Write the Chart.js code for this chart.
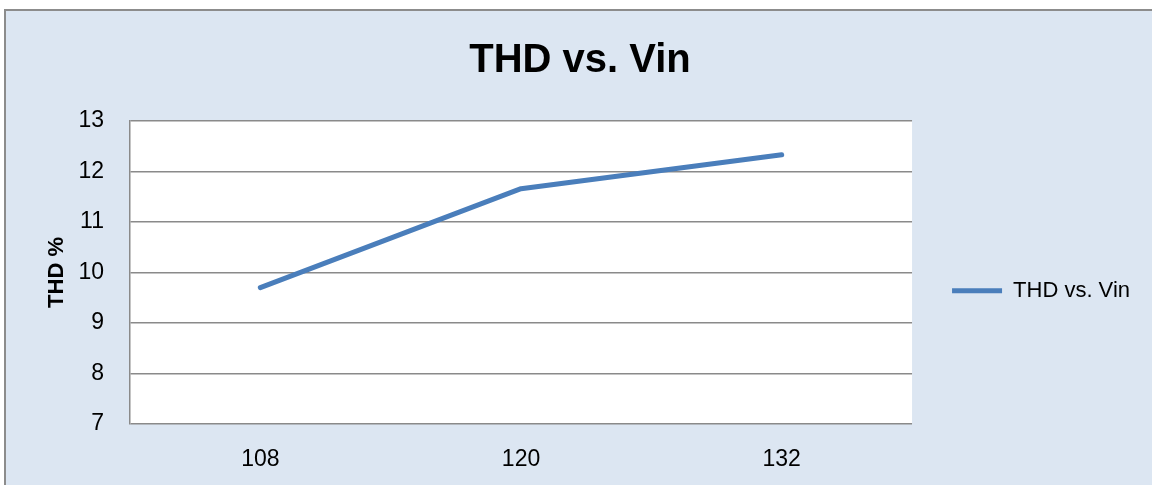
<!DOCTYPE html>
<html>
<head>
<meta charset="utf-8">
<script src="https://cdn.jsdelivr.net/npm/chart.js@4"></script>
<style>
    body { margin: 0; background: #fff; }
    #frame {
        position: absolute; left: 4px; top: 9px; width: 1160px; height: 490px;
        border-left: 2px solid #8c8c8c; border-top: 2px solid #8c8c8c;
        background: #dce6f2;
    }
    #wrap { position: absolute; left: 0; top: 0; width: 1152px; height: 485px; }
</style>
</head>
<body>
<div id="frame"></div>
<div id="wrap"><canvas id="thdChart"></canvas></div>
<script>
// chart data
const vinLabels = ['108', '120', '132'];
const thdValues = [9.7, 11.66, 12.33];
const seriesName = 'THD vs. Vin';
const yMin = 7;
const yMax = 13;

const FONT = "'Liberation Sans', Arial, sans-serif";

// white plot area like the Excel chart
const plotBackground = {
    id: 'plotBackground',
    beforeDraw(chart) {
        const { ctx, chartArea: a } = chart;
        ctx.save();
        ctx.fillStyle = '#ffffff';
        ctx.fillRect(a.left, a.top, a.right - a.left, a.bottom - a.top);
        ctx.restore();
    }
};

const ctx = document.getElementById('thdChart').getContext('2d');
const thdChart = new Chart(ctx, {
    type: 'line',
    data: {
        labels: vinLabels,
        datasets: [{
            label: seriesName,
            data: thdValues,
            borderColor: '#4a7ebb',
            backgroundColor: '#4a7ebb',
            borderWidth: 5,
            borderCapStyle: 'round',
            borderJoinStyle: 'round',
            pointRadius: 0,
            pointStyle: 'line',
            tension: 0,
            fill: false
        }]
    },
    options: {
        responsive: true,
        maintainAspectRatio: false,
        animation: false,
        layout: { padding: { left: 20, right: 12, top: 0, bottom: 0 } },
        plugins: {
            title: {
                display: true,
                text: 'THD vs. Vin',
                color: '#000',
                font: { family: FONT, size: 40, weight: 'bold' },
                padding: { top: 37, bottom: 36 }
            },
            legend: {
                position: 'right',
                // empty title only pushes the legend item down a bit
                title: { display: true, text: '', padding: { top: 41, bottom: 41 } },
                labels: {
                    usePointStyle: true,
                    pointStyleWidth: 50,
                    padding: 40,
                    color: '#000',
                    font: { family: FONT, size: 22 }
                }
            },
            tooltip: { enabled: false }
        },
        scales: {
            x: {
                offset: true,
                afterFit: s => { s.height = 61; },
                grid: { display: false, drawTicks: false },
                border: { display: false },
                ticks: { color: '#000', padding: 22, font: { family: FONT, size: 23 } }
            },
            y: {
                min: yMin,
                max: yMax,
                afterFit: s => { s.width = 110; },
                grid: { color: '#8a8a8a', lineWidth: 1.5, drawTicks: false },
                border: { display: true, color: '#8a8a8a', width: 1.5 },
                ticks: { stepSize: 1, color: '#000', padding: 26, font: { family: FONT, size: 23 } },
                title: {
                    display: true,
                    text: 'THD %',
                    color: '#000',
                    font: { family: FONT, size: 22, weight: 'bold' },
                    padding: { top: 24, bottom: 0 }
                }
            }
        }
    },
    plugins: [plotBackground]
});
</script>
</body>
</html>
